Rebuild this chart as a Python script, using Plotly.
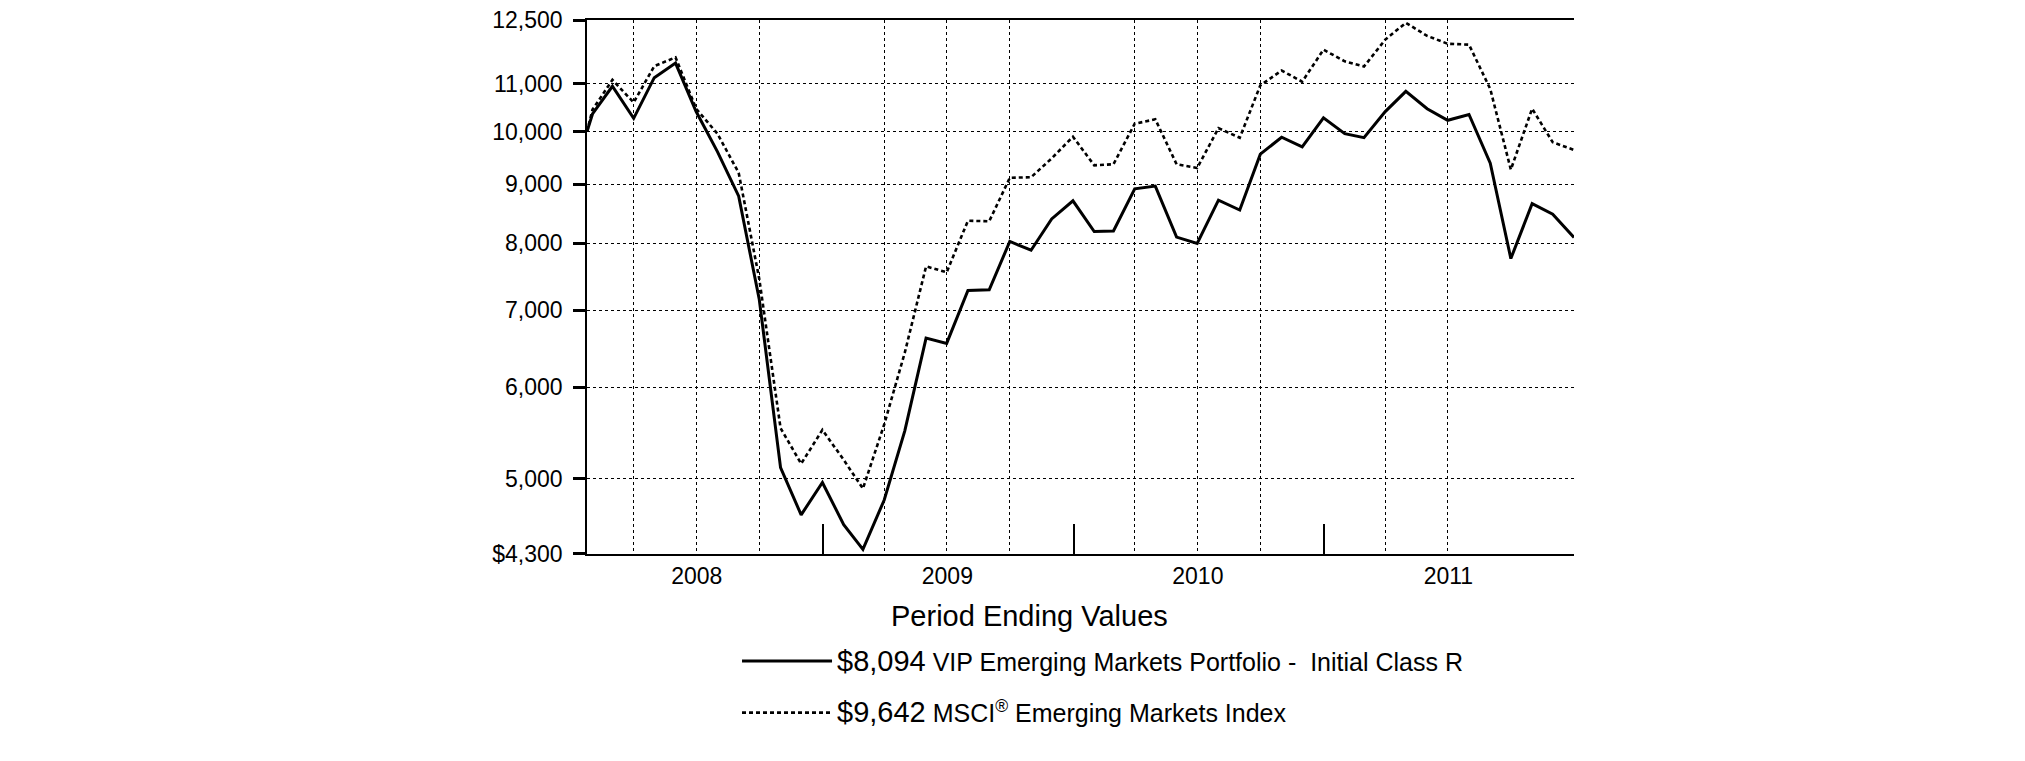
import plotly.graph_objects as go
import math

dates = ["2008-01-23",
         "2008-01-31", "2008-02-29", "2008-03-31", "2008-04-30", "2008-05-31", "2008-06-30",
         "2008-07-31", "2008-08-31", "2008-09-30", "2008-10-31", "2008-11-30", "2008-12-31",
         "2009-01-31", "2009-02-28", "2009-03-31", "2009-04-30", "2009-05-31", "2009-06-30",
         "2009-07-31", "2009-08-31", "2009-09-30", "2009-10-31", "2009-11-30", "2009-12-31",
         "2010-01-31", "2010-02-28", "2010-03-31", "2010-04-30", "2010-05-31", "2010-06-30",
         "2010-07-31", "2010-08-31", "2010-09-30", "2010-10-31", "2010-11-30", "2010-12-31",
         "2011-01-31", "2011-02-28", "2011-03-31", "2011-04-30", "2011-05-31", "2011-06-30",
         "2011-07-31", "2011-08-31", "2011-09-30", "2011-10-31", "2011-11-30", "2011-12-31"]

fund = [10000,
        10360, 10950, 10270, 11140, 11470, 10410,
        9610, 8790, 7150, 5110, 4650, 4960,
        4560, 4340, 4790, 5500, 6620, 6550,
        7280, 7290, 8030, 7890, 8400, 8710,
        8190, 8200, 8920, 8970, 8100, 8000,
        8720, 8550, 9560, 9890, 9700, 10280,
        9960, 9880, 10410, 10840, 10470, 10230,
        10350, 9390, 7760, 8660, 8480, 8094]

index = [10000,
         10450, 11090, 10600, 11400, 11600, 10470,
         9960, 9210, 7450, 5530, 5150, 5510,
         5190, 4900, 5570, 6430, 7640, 7550,
         8370, 8360, 9120, 9130, 9480, 9900,
         9350, 9370, 10160, 10250, 9370, 9300,
         10070, 9880, 10970, 11300, 11050, 11780,
         11510, 11390, 12020, 12430, 12110, 11920,
         11900, 10890, 9270, 10470, 9790, 9642]

fund_name = "VIP Emerging Markets Portfolio -  Initial Class R"
index_name = "MSCI<sup>\u00ae</sup> Emerging Markets Index"
fund_end = "$8,094"
index_end = "$9,642"
legend_title = "Period Ending Values"

y_ticks = [4300, 5000, 6000, 7000, 8000, 9000, 10000, 11000, 12500]
y_labels = ["$4,300", "5,000", "6,000", "7,000", "8,000", "9,000", "10,000", "11,000", "12,500"]

year_bounds = ["2009-01-01", "2010-01-01", "2011-01-01"]
year_mids = ["2008-07-01", "2009-07-01", "2010-07-01", "2011-07-01"]
year_labels = ["2008", "2009", "2010", "2011"]
quarter_grid = ["2008-03-31", "2008-06-30", "2008-09-30",
                "2009-03-31", "2009-06-30", "2009-09-30",
                "2010-03-31", "2010-06-30", "2010-09-30",
                "2011-03-31", "2011-06-30"]
x_range = ["2008-01-23", "2011-12-31"]
y_min, y_max = 4300, 12500

FONT = "Liberation Sans, Arial, sans-serif"

fig = go.Figure()
fig.add_trace(go.Scatter(
    x=dates, y=fund, mode="lines", legendgroup="a",
    line=dict(color="black", width=3),
    name="<span style='font-size:29px'>" + fund_end + "</span> " + fund_name))
fig.add_trace(go.Scatter(
    x=dates, y=index, mode="lines", legendgroup="b",
    line=dict(color="black", width=2.6, dash="4px,3px"),
    name="<span style='font-size:29px'>" + index_end + "</span> " + index_name))
# invisible helper trace so the year-label axis is rendered
fig.add_trace(go.Scatter(
    x=dates, y=fund, mode="lines", xaxis="x2", yaxis="y",
    line=dict(width=0, color="rgba(0,0,0,0)"), opacity=0,
    showlegend=False, hoverinfo="skip"))

fig.update_layout(
    width=2009, height=745, autosize=False,
    margin=dict(l=579, r=443, t=12, b=199, pad=0, autoexpand=False),
    paper_bgcolor="white", plot_bgcolor="white",
    font=dict(family=FONT, color="black", size=23),
    showlegend=True,
    legend=dict(x=0.152, y=-0.158, xanchor="left", yanchor="top",
                font=dict(family=FONT, size=25, color="black"),
                bgcolor="rgba(0,0,0,0)", tracegroupgap=16, itemwidth=90),
    xaxis=dict(type="date", range=x_range, tickvals=year_bounds, automargin=False,
               ticks="inside", ticklen=30, tickwidth=1.5, tickcolor="black",
               showticklabels=False, showgrid=False, zeroline=False,
               showline=True, linecolor="black", linewidth=1.5, mirror=True,
               minor=dict(tickvals=quarter_grid, showgrid=True, griddash="dot",
                          gridcolor="black", gridwidth=1, ticks="")),
    xaxis2=dict(type="date", range=x_range, overlaying="x", anchor="y", side="bottom",
                tickvals=year_mids, ticktext=year_labels, ticks="", automargin=False,
                showgrid=False, showline=False, zeroline=False,
                tickfont=dict(family=FONT, size=23, color="black"), ticklabelstandoff=6),
    yaxis=dict(type="log", range=[math.log10(y_min) - 1e-5, math.log10(y_max) + 1e-5],
               tickvals=y_ticks, ticktext=y_labels, ticklabeloverflow="allow",
               automargin=False,
               ticks="outside", ticklen=12, tickwidth=3, tickcolor="black",
               showgrid=True, griddash="dot", gridcolor="black", gridwidth=1,
               showline=True, linecolor="black", linewidth=1.5, zeroline=False,
               tickfont=dict(family=FONT, size=23, color="black"), ticklabelstandoff=6),
    annotations=[dict(text=legend_title, xref="paper", yref="paper",
                      x=0.4488, y=-0.1165, xanchor="center", yanchor="middle",
                      showarrow=False, font=dict(family=FONT, size=29, color="black"))],
)

fig.write_html("out.html")
